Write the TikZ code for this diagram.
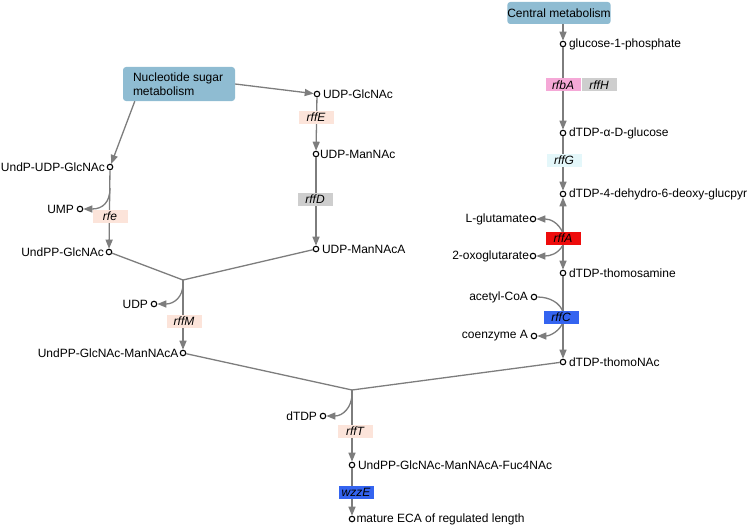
\documentclass[tikz,border=0pt]{standalone}
\usepackage{fontspec}
\setmainfont{Liberation Sans}
\usetikzlibrary{arrows.meta}

\definecolor{pathblue}{RGB}{143,188,210}
\definecolor{peach}{RGB}{252,228,218}
\definecolor{genegray}{RGB}{206,206,206}
\definecolor{genepink}{RGB}{245,168,215}
\definecolor{genecyan}{RGB}{228,247,250}
\definecolor{genered}{RGB}{238,12,12}
\definecolor{geneblue}{RGB}{52,100,240}
\definecolor{edgegray}{RGB}{125,125,125}

\tikzset{
  met/.style={circle, draw=black, fill=white, line width=1.1pt, inner sep=0pt, minimum size=5.5pt},
  path box/.style={rounded corners=3pt, fill=pathblue, inner sep=0pt, align=left},
  gene/.style={fill=#1, inner sep=0pt, minimum width=35pt, minimum height=13pt, font=\fontsize{12}{13}\selectfont\itshape},
  rxn/.style={draw=edgegray, line width=1.3pt, -{Triangle[length=9pt, width=7pt]}},
  side/.style={draw=edgegray, line width=1.3pt},
  lbl/.style={font=\fontsize{12}{14}\selectfont, inner sep=2.5pt}
}

\begin{document}
\begin{tikzpicture}[x=1pt, y=-1pt, font=\fontsize{12}{14}\selectfont]
\useasboundingbox (0,0) rectangle (750,527);

% pathway boxes
\node[path box, minimum width=93pt, minimum height=22pt] (central) at (559,13) {Central metabolism};
\node[path box, minimum width=112pt, minimum height=34pt] (nucsugar) at (179,84)
  {\parbox{92pt}{Nucleotide sugar\\metabolism}};

% metabolites
\node[met] (g1p) at (563,44) {};
\node[lbl, right] at (g1p.east) {glucose-1-phosphate};
\node[met] (dglc) at (563,133) {};
\node[lbl, right] at (dglc.east) {dTDP-α-D-glucose};
\node[met] (dehyd) at (563,194) {};
\node[lbl, right] at (dehyd.east) {dTDP-4-dehydro-6-deoxy-glucpyr};
\node[met] (glu) at (533,219) {};
\node[lbl, left, inner sep=0.5pt] at (glu.west) {L-glutamate};
\node[met] (oxo) at (533,256) {};
\node[lbl, left, inner sep=0.5pt] at (oxo.west) {2-oxoglutarate};
\node[met] (thomosam) at (563,273) {};
\node[lbl, right] at (thomosam.east) {dTDP-thomosamine};
\node[met] (accoa) at (534,297) {};
\node[lbl, left] at (accoa.west) {acetyl-CoA};
\node[met] (coa) at (534,336) {};
\node[lbl, left] at (coa.west) {coenzyme A};
\node[met] (thomonac) at (563,362) {};
\node[lbl, right] at (thomonac.east) {dTDP-thomoNAc};

\node[met] (udpglcnac) at (317,94) {};
\node[lbl, right] at (udpglcnac.east) {UDP-GlcNAc};
\node[met] (udpmannac) at (316,154) {};
\node[lbl, right, inner sep=0.5pt] at (udpmannac.east) {UDP-ManNAc};
\node[met] (udpmannaca) at (316,249) {};
\node[lbl, right] at (udpmannaca.east) {UDP-ManNAcA};
\node[met] (undpudp) at (110,167) {};
\node[lbl, left, inner sep=1.5pt] at (undpudp.west) {UndP-UDP-GlcNAc};
\node[met] (ump) at (80,209) {};
\node[lbl, left] at (ump.west) {UMP};
\node[met] (undppglc) at (109,252) {};
\node[lbl, left, inner sep=1.5pt] at (undppglc.west) {UndPP-GlcNAc};
\node[met] (udp) at (154,304) {};
\node[lbl, left] at (udp.west) {UDP};
\node[met] (undppman) at (183,353) {};
\node[lbl, left, inner sep=1pt] at (undppman.west) {UndPP-GlcNAc-ManNAcA};
\node[met] (dtdp) at (323,416) {};
\node[lbl, left] at (dtdp.west) {dTDP};
\node[met] (undppfuc) at (352,465) {};
\node[lbl, right] at (undppfuc.east) {UndPP-GlcNAc-ManNAcA-Fuc4NAc};
\node[met] (eca) at (352,519) {};
\node[lbl, right, inner sep=1pt] at (eca.east) {mature ECA of regulated length};

\coordinate (j1) at (183,280);
\coordinate (j2) at (352,390);

% reactions
\draw[rxn] (central.south -| g1p) -- (g1p);
\draw[rxn] (g1p) -- (dglc);
\draw[rxn] (dglc) -- (dehyd);
\draw[rxn, {Triangle[length=9pt, width=7pt]}-{Triangle[length=9pt, width=7pt]}] (dehyd) -- (thomosam);
\draw[rxn] (563,233) .. controls (558,222) and (550,219) .. (glu);
\draw[rxn] (563,245) .. controls (558,254) and (550,256) .. (oxo);
\draw[rxn] (thomosam) -- (thomonac);
\draw[side] (accoa) .. controls (550,297) and (560,303) .. (563,312);
\draw[rxn] (563,322) .. controls (560,331) and (550,336) .. (coa);

\draw[rxn] (nucsugar.east) -- (udpglcnac);
\draw[rxn] (nucsugar.south west) ++(12,0) -- (undpudp);
\draw[rxn] (udpglcnac) -- (udpmannac);
\draw[rxn] (udpmannac) -- (udpmannaca);
\draw[rxn] (undpudp) -- (undppglc);
\draw[rxn] (110,188) .. controls (110,202) and (103,209) .. (ump);
\draw[side] (undppglc) -- (j1);
\draw[side] (udpmannaca) -- (j1);
\draw[rxn] (j1) -- (undppman);
\draw[rxn] (183,284) .. controls (183,297) and (174,304) .. (udp);
\draw[side] (undppman) -- (j2);
\draw[side] (thomonac) -- (j2);
\draw[rxn] (j2) -- (undppfuc);
\draw[rxn] (352,394) .. controls (352,407) and (343,416) .. (dtdp);
\draw[rxn] (undppfuc) -- (eca);

% genes
\node[gene=genepink] (rfbA) at (563,85) {rfbA};
\node[gene=genegray] (rffH) at (599,85) {rffH};
\node[gene=genecyan] (rffG) at (564,160) {rffG};
\node[gene=genered] (rffA) at (563,238) {rffA};
\node[gene=geneblue] (rffC) at (561,317) {rffC};
\node[gene=peach] (rffE) at (316,117) {rffE};
\node[gene=genegray] (rffD) at (315,199) {rffD};
\node[gene=peach] (rfe) at (110,216) {rfe};
\node[gene=peach] (rffM) at (184,321) {rffM};
\node[gene=peach] (rffT) at (355,431) {rffT};
\node[gene=geneblue] (wzzE) at (356,492) {wzzE};

\end{tikzpicture}
\end{document}
